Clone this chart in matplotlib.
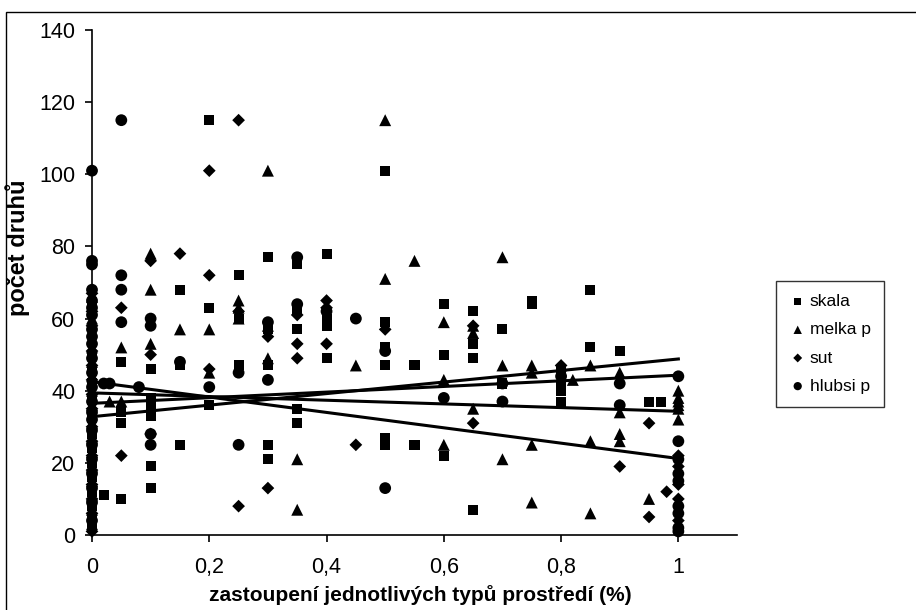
import matplotlib
matplotlib.use("Agg")
import matplotlib.pyplot as plt
from matplotlib.patches import Rectangle

plt.rcParams['font.family'] = ['Liberation Sans', 'DejaVu Sans']

# --- data: share of habitat type (x) vs. number of species (y) ---
skala_x = [0]*14 + [0.02, 0.05, 0.05, 0.05, 0.05, 0.1, 0.1, 0.1, 0.1, 0.1, 0.1, 0.1,
                     0.15, 0.15, 0.15, 0.2, 0.2, 0.2, 0.25, 0.25, 0.25, 0.3, 0.3, 0.3, 0.3, 0.3,
                     0.35, 0.35, 0.35, 0.35, 0.35, 0.4, 0.4, 0.4, 0.4, 0.5, 0.5, 0.5, 0.5, 0.5, 0.5,
                     0.55, 0.55, 0.6, 0.6, 0.6, 0.65, 0.65, 0.65, 0.65, 0.7, 0.7, 0.75, 0.75,
                     0.8, 0.8, 0.8, 0.8, 0.85, 0.85, 0.9, 0.95, 0.97]
skala_y = [2, 5, 8, 12, 16, 20, 24, 28, 33, 38, 42, 46, 50, 64] + \
          [11, 48, 34, 31, 10, 46, 38, 36, 33, 19, 13, 46,
           68, 47, 25, 115, 63, 36, 72, 47, 60, 77, 57, 47, 25, 21,
           75, 62, 57, 35, 31, 78, 60, 58, 49, 101, 59, 52, 47, 27, 25,
           47, 25, 64, 50, 22, 62, 53, 49, 7, 57, 42, 65, 64,
           46, 41, 40, 37, 68, 52, 51, 37, 37]
melka_x = [0]*15 + [0.03, 0.05, 0.05, 0.1, 0.1, 0.1, 0.15, 0.2, 0.2, 0.25, 0.25, 0.25,
                     0.3, 0.3, 0.3, 0.35, 0.35, 0.45, 0.5, 0.5, 0.55, 0.6, 0.6, 0.6,
                     0.65, 0.65, 0.65, 0.7, 0.7, 0.7, 0.75, 0.75, 0.75, 0.75, 0.8, 0.82,
                     0.85, 0.85, 0.85, 0.9, 0.9, 0.9, 0.9, 0.95, 1, 1, 1, 1, 1, 1]
melka_y = [3, 7, 11, 15, 19, 23, 27, 31, 36, 40, 44, 48, 52, 60, 66] + \
          [37, 52, 37, 78, 68, 53, 57, 57, 45, 65, 63, 60,
           101, 58, 49, 21, 7, 47, 115, 71, 76, 59, 43, 25,
           58, 56, 35, 77, 47, 21, 47, 45, 25, 9, 47, 43,
           47, 26, 6, 45, 34, 28, 26, 10, 40, 38, 37, 36, 35, 32]
sut_x = [0]*16 + [0.05, 0.05, 0.1, 0.1, 0.1, 0.15, 0.2, 0.2, 0.2, 0.25, 0.25, 0.25,
                   0.3, 0.3, 0.35, 0.35, 0.35, 0.4, 0.4, 0.4, 0.45, 0.5, 0.65, 0.65,
                   0.8, 0.9, 0.95, 0.95, 0.98, 1, 1, 1, 1, 1]
sut_y = [1, 6, 10, 14, 18, 22, 26, 30, 35, 39, 43, 47, 51, 58, 62, 67] + \
        [63, 22, 76, 50, 28, 78, 101, 72, 46, 115, 62, 8,
         55, 13, 61, 53, 49, 65, 63, 53, 25, 57, 58, 31,
         47, 19, 31, 5, 12, 22, 19, 14, 10, 4]
hlubsi_x = [0]*23 + [0.02, 0.03, 0.05, 0.05, 0.05, 0.05, 0.08, 0.1, 0.1, 0.1, 0.1,
                      0.15, 0.2, 0.25, 0.25, 0.3, 0.3, 0.35, 0.35, 0.4, 0.45, 0.5, 0.5,
                      0.6, 0.7, 0.7, 0.8, 0.9, 0.9, 1, 1, 1, 1, 1, 1, 1, 1, 1]
hlubsi_y = [4, 9, 13, 17, 21, 25, 29, 32, 34, 37, 41, 45, 49, 53, 55, 57, 61, 63, 65,
            68, 75, 76, 101] + \
           [42, 42, 115, 72, 68, 59, 41, 60, 58, 28, 25,
            48, 41, 45, 25, 59, 43, 77, 64, 62, 60, 51, 13,
            38, 42, 37, 44, 42, 36, 44, 26, 21, 17, 15, 8, 6, 2, 1]

# linear trend lines (value at x=0 and x=1)
skala_trend = [36.5, 44.3]
melka_trend = [32.8, 48.8]
sut_trend = [39.4, 34.3]
hlubsi_trend = [42.5, 21.2]

x_ticks = [0, 0.2, 0.4, 0.6, 0.8, 1]
x_labels = ["0", "0,2", "0,4", "0,6", "0,8", "1"]
y_ticks = [0, 20, 40, 60, 80, 100, 120, 140]

fig = plt.figure(figsize=(9.16, 6.10), dpi=100)
fig.patches.append(Rectangle((5.5 / 916, -0.01), 1.02, 1 - 11.5 / 610 + 0.01,
                             transform=fig.transFigure, fill=False,
                             edgecolor='black', linewidth=1.0))

ax = fig.add_axes([92 / 916, 1 - 535 / 610, (737 - 92) / 916, (535 - 30) / 610])

series = [
    ("skala", skala_x, skala_y, 's', 52),
    ("melka p", melka_x, melka_y, '^', 74),
    ("sut", sut_x, sut_y, 'D', 42),
    ("hlubsi p", hlubsi_x, hlubsi_y, 'o', 72),
]
for name, xs, ys, m, s in series:
    ax.scatter(xs, ys, marker=m, s=s, color='black', edgecolors='none',
               clip_on=False, zorder=3, label=name)

for tr in (skala_trend, melka_trend, sut_trend, hlubsi_trend):
    ax.plot([0, 1], tr, color='black', linewidth=2.2, zorder=4)

ax.set_xlim(0, 1.1)
ax.set_ylim(0, 140)
ax.set_xticks(x_ticks)
ax.set_xticklabels(x_labels)
ax.set_yticks(y_ticks)
for side in ('top', 'right'):
    ax.spines[side].set_visible(False)
for side in ('left', 'bottom'):
    ax.spines[side].set_linewidth(1.2)
ax.tick_params(direction='out', length=5, width=1.2, labelsize=15.5)
ax.tick_params(axis='y', pad=7)
ax.tick_params(axis='x', pad=11)

fig.text(420 / 916, 1 - 595 / 610, "zastoupení jednotlivých typů prostředí (%)",
         fontsize=15, fontweight='bold', ha='center', va='center')
fig.text(18 / 916, 1 - 248 / 610, "počet druhů", fontsize=17,
         fontweight='bold', ha='center', va='center', rotation=90)

leg = ax.legend(loc='upper left', bbox_to_anchor=(776 / 916, 1 - 281 / 610),
                bbox_transform=fig.transFigure, frameon=True, fancybox=False,
                edgecolor='black', fontsize=12.5, handletextpad=0.2,
                borderpad=0.75, labelspacing=0.75, handlelength=1.0,
                borderaxespad=0, scatterpoints=1, markerscale=0.7)
leg.get_frame().set_linewidth(1.0)

fig.savefig("out.png", dpi=100)
